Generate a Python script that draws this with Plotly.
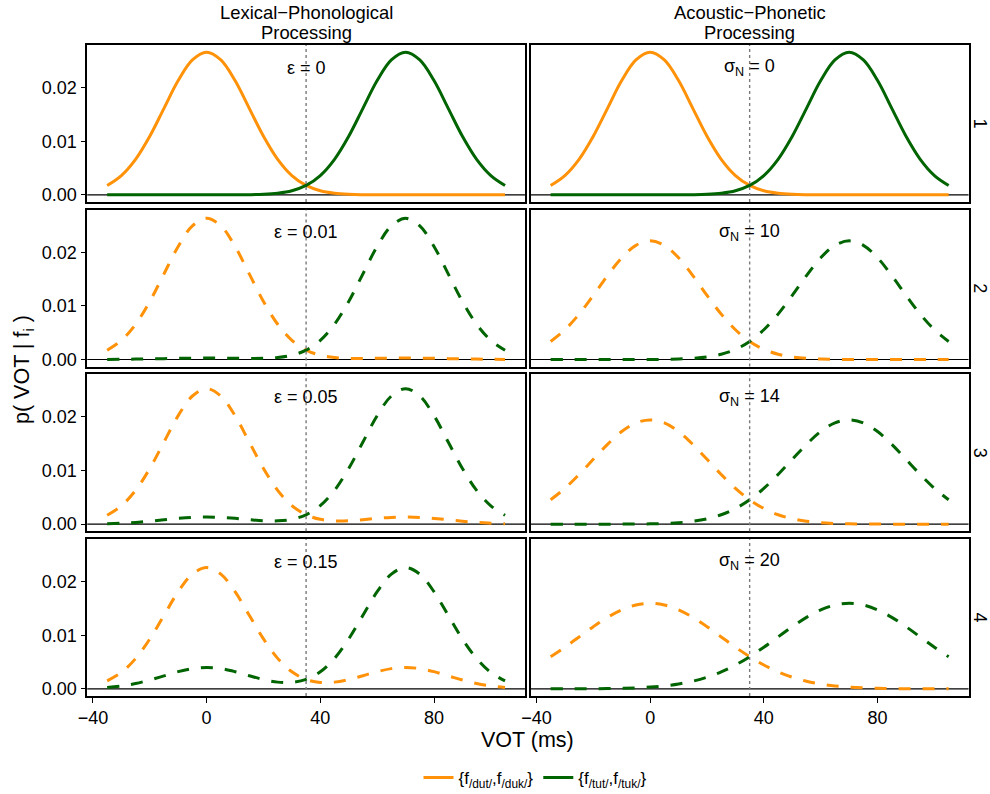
import plotly.graph_objects as go

# ---------------- data ----------------
vot = [-35, -30, -25, -20, -15, -10, -5, 0, 5, 10, 15, 20, 25, 30, 35,
       40, 45, 50, 55, 60, 65, 70, 75, 80, 85, 90, 95, 100, 105]

# row 1 (epsilon = 0 / sigma_N = 0)
dut_row1 = [0.00175, 0.00360, 0.00663, 0.01093, 0.01613, 0.02130, 0.02516, 0.02660, 0.02516, 0.02130,
            0.01613, 0.01093, 0.00663, 0.00360, 0.00175, 0.00076, 0.00030, 0.00010, 0.00003, 0.00001,
            0, 0, 0, 0, 0, 0, 0, 0, 0]
tut_row1 = [0, 0, 0, 0, 0, 0, 0, 0, 0, 0.00001,
            0.00003, 0.00010, 0.00030, 0.00076, 0.00175, 0.00360, 0.00663, 0.01093, 0.01613, 0.02130,
            0.02516, 0.02660, 0.02516, 0.02130, 0.01613, 0.01093, 0.00663, 0.00360, 0.00175]

# Lexical-Phonological processing
dut_eps001 = [0.00173, 0.00356, 0.00656, 0.01082, 0.01597, 0.02109, 0.02491, 0.02633, 0.02491, 0.02109,
              0.01597, 0.01082, 0.00657, 0.00357, 0.00175, 0.00079, 0.00036, 0.00021, 0.00019, 0.00022,
              0.00025, 0.00027, 0.00025, 0.00021, 0.00016, 0.00011, 0.00007, 0.00004, 0.00002]
tut_eps001 = [0.00002, 0.00004, 0.00007, 0.00011, 0.00016, 0.00021, 0.00025, 0.00027, 0.00025, 0.00022,
              0.00019, 0.00021, 0.00036, 0.00079, 0.00175, 0.00357, 0.00657, 0.01082, 0.01597, 0.02109,
              0.02491, 0.02633, 0.02491, 0.02109, 0.01597, 0.01082, 0.00656, 0.00356, 0.00173]
dut_eps005 = [0.00166, 0.00342, 0.00630, 0.01038, 0.01532, 0.02024, 0.02390, 0.02527, 0.02390, 0.02024,
              0.01532, 0.01039, 0.00631, 0.00346, 0.00175, 0.00090, 0.00062, 0.00064, 0.00084, 0.00108,
              0.00126, 0.00133, 0.00126, 0.00107, 0.00081, 0.00055, 0.00033, 0.00018, 0.00009]
tut_eps005 = [0.00009, 0.00018, 0.00033, 0.00055, 0.00081, 0.00107, 0.00126, 0.00133, 0.00126, 0.00108,
              0.00084, 0.00064, 0.00062, 0.00090, 0.00175, 0.00346, 0.00631, 0.01039, 0.01532, 0.02024,
              0.02390, 0.02527, 0.02390, 0.02024, 0.01532, 0.01038, 0.00630, 0.00342, 0.00166]
dut_eps015 = [0.00149, 0.00306, 0.00564, 0.00929, 0.01371, 0.01811, 0.02139, 0.02261, 0.02139, 0.01811,
              0.01371, 0.00931, 0.00568, 0.00317, 0.00175, 0.00119, 0.00125, 0.00172, 0.00245, 0.00320,
              0.00377, 0.00399, 0.00377, 0.00320, 0.00242, 0.00164, 0.00099, 0.00054, 0.00026]
tut_eps015 = [0.00026, 0.00054, 0.00099, 0.00164, 0.00242, 0.00320, 0.00377, 0.00399, 0.00377, 0.00320,
              0.00245, 0.00172, 0.00125, 0.00119, 0.00175, 0.00317, 0.00568, 0.00931, 0.01371, 0.01811,
              0.02139, 0.02261, 0.02139, 0.01811, 0.01371, 0.00929, 0.00564, 0.00306, 0.00149]

# Acoustic-Phonetic processing
dut_sig10 = [0.00336, 0.00554, 0.00846, 0.01196, 0.01565, 0.01897, 0.02129, 0.02213, 0.02129, 0.01897,
             0.01565, 0.01196, 0.00846, 0.00554, 0.00336, 0.00189, 0.00098, 0.00047, 0.00021, 0.00009,
             0.00003, 0.00001, 0, 0, 0, 0, 0, 0, 0]
tut_sig10 = [0, 0, 0, 0, 0, 0, 0, 0.00001, 0.00003, 0.00009,
             0.00021, 0.00047, 0.00098, 0.00189, 0.00336, 0.00554, 0.00846, 0.01196, 0.01565, 0.01897,
             0.02129, 0.02213, 0.02129, 0.01897, 0.01565, 0.01196, 0.00846, 0.00554, 0.00336]
dut_sig14 = [0.00454, 0.00668, 0.00926, 0.01209, 0.01488, 0.01727, 0.01888, 0.01944, 0.01888, 0.01727,
             0.01488, 0.01209, 0.00926, 0.00668, 0.00454, 0.00291, 0.00176, 0.00100, 0.00054, 0.00027,
             0.00013, 0.00006, 0.00002, 0.00001, 0, 0, 0, 0, 0]
tut_sig14 = [0, 0, 0, 0, 0, 0.00001, 0.00002, 0.00006, 0.00013, 0.00027,
             0.00054, 0.00100, 0.00176, 0.00291, 0.00454, 0.00668, 0.00926, 0.01209, 0.01488, 0.01727,
             0.01888, 0.01944, 0.01888, 0.01727, 0.01488, 0.01209, 0.00926, 0.00668, 0.00454]
dut_sig20 = [0.00599, 0.00777, 0.00968, 0.01159, 0.01333, 0.01473, 0.01564, 0.01596, 0.01564, 0.01473,
             0.01333, 0.01159, 0.00968, 0.00777, 0.00599, 0.00444, 0.00316, 0.00216, 0.00142, 0.00090,
             0.00054, 0.00032, 0.00018, 0.00010, 0.00005, 0.00002, 0.00001, 0.00001, 0]
tut_sig20 = [0, 0.00001, 0.00001, 0.00002, 0.00005, 0.00010, 0.00018, 0.00032, 0.00054, 0.00090,
             0.00142, 0.00216, 0.00316, 0.00444, 0.00599, 0.00777, 0.00968, 0.01159, 0.01333, 0.01473,
             0.01564, 0.01596, 0.01564, 0.01473, 0.01333, 0.01159, 0.00968, 0.00777, 0.00599]

col_titles = [["Lexical\u2212Phonological", "Processing"], ["Acoustic\u2212Phonetic", "Processing"]]
row_labels = ["1", "2", "3", "4"]
left_labels = ["\u03b5 = 0", "\u03b5 = 0.01", "\u03b5 = 0.05", "\u03b5 = 0.15"]
right_labels = ["\u03c3<sub>N</sub> = 0", "\u03c3<sub>N</sub> = 10", "\u03c3<sub>N</sub> = 14", "\u03c3<sub>N</sub> = 20"]
left_series = [(dut_row1, tut_row1), (dut_eps001, tut_eps001), (dut_eps005, tut_eps005), (dut_eps015, tut_eps015)]
right_series = [(dut_row1, tut_row1), (dut_sig10, tut_sig10), (dut_sig14, tut_sig14), (dut_sig20, tut_sig20)]
legend_names = ["{f<sub>/dut/</sub>,f<sub>/duk/</sub>}", "{f<sub>/tut/</sub>,f<sub>/tuk/</sub>}"]
x_ticks = [-40, 0, 40, 80]
y_ticks = [0, 0.01, 0.02]
boundary = 35

# ---------------- styling / layout ----------------
W, H = 990, 794
ORANGE = "#FF9208"
GREEN = "#006400"
FONT = "Liberation Sans, Arial, Helvetica, sans-serif"
LW = 1.5           # panel border width; plotly draws it half a width outside the domain
hw = LW / 2
col_px = [[86.5, 525.7], [530.0, 969.3]]          # border centres in pixels
row_step = 164.67
row_px = [[44.3 + r * row_step, 202.7 + r * row_step] for r in range(4)]
x_dom = [[(a + hw) / W, (b - hw) / W] for a, b in col_px]
y_dom = [[1 - (b - hw) / H, 1 - (t + hw) / H] for t, b in row_px]
x_range = [-42, 112]
y_range = [-0.00133, 0.02793]

fig = go.Figure()
layout = dict(template="none", width=W, height=H,
              margin=dict(l=0, r=0, t=0, b=0, pad=0, autoexpand=False), autosize=False,
              paper_bgcolor="white", plot_bgcolor="white",
              font=dict(family=FONT, color="black", size=17))
shapes = []
annotations = []

for r in range(4):
    for c in range(2):
        idx = r * 2 + c + 1
        xa = "x" if idx == 1 else f"x{idx}"
        ya = "y" if idx == 1 else f"y{idx}"
        xkey = "xaxis" if idx == 1 else f"xaxis{idx}"
        ykey = "yaxis" if idx == 1 else f"yaxis{idx}"
        bottom = (r == 3)
        left = (c == 0)
        layout[xkey] = dict(domain=x_dom[c], anchor=ya, range=x_range, tickvals=x_ticks,
                            showticklabels=bottom, ticks="outside" if bottom else "",
                            ticklen=5, tickwidth=1, tickcolor="black", automargin=False,
                            showline=True, linecolor="black", linewidth=LW, mirror=True,
                            showgrid=False, zeroline=False, tickfont=dict(size=18, color="black"))
        layout[ykey] = dict(domain=y_dom[r], anchor=xa, range=y_range, tickvals=y_ticks,
                            tickformat=".2f", showticklabels=left, automargin=False,
                            ticks="outside" if left else "", ticklen=5, tickwidth=1, tickcolor="black",
                            showline=True, linecolor="black", linewidth=LW, mirror=True,
                            showgrid=False, zeroline=False, tickfont=dict(size=18, color="black"))
        series = left_series[r] if c == 0 else right_series[r]
        dash = "solid" if r == 0 else "12px,12px"
        for k, (vals, colr) in enumerate(zip(series, [ORANGE, GREEN])):
            fig.add_trace(go.Scatter(x=vot, y=vals, mode="lines", xaxis=xa, yaxis=ya,
                                     line=dict(color=colr, width=3, dash=dash, shape="spline"),
                                     name=legend_names[k], legendgroup=str(k),
                                     showlegend=(idx == 1), hoverinfo="skip"))
        shapes.append(dict(type="line", xref=f"{xa} domain", x0=0, x1=1, yref=ya, y0=0, y1=0,
                           line=dict(color="black", width=1.2), layer="below"))
        shapes.append(dict(type="line", xref=xa, x0=boundary, x1=boundary, yref=f"{ya} domain",
                           y0=0, y1=1, line=dict(color="#7a7a7a", width=1.4, dash="dot"), layer="above"))
        label = left_labels[r] if c == 0 else right_labels[r]
        annotations.append(dict(text=label, xref=xa, yref=ya, x=boundary, y=0.0237,
                                showarrow=False, xanchor="center", yanchor="middle",
                                font=dict(size=18, color="black")))

for c in range(2):
    for j, line_y in enumerate([13, 33]):
        annotations.append(dict(text=col_titles[c][j], xref="paper", yref="paper",
                                x=sum(x_dom[c]) / 2, y=1 - line_y / H, showarrow=False,
                                xanchor="center", yanchor="middle",
                                font=dict(size=18.4, color="black")))
for r in range(4):
    annotations.append(dict(text=row_labels[r], xref="paper", yref="paper",
                            x=980 / W, y=sum(y_dom[r]) / 2, showarrow=False, textangle=90,
                            xanchor="center", yanchor="middle", font=dict(size=18, color="black")))

annotations.append(dict(text="VOT (ms)", xref="paper", yref="paper", x=527.8 / W, y=1 - 740 / H,
                        showarrow=False, xanchor="center", yanchor="middle",
                        font=dict(size=21.5, color="black")))
annotations.append(dict(text="p( VOT | f<sub>i</sub> )", xref="paper", yref="paper",
                        x=24 / W, y=1 - 370 / H, showarrow=False, textangle=-90,
                        xanchor="center", yanchor="middle", font=dict(size=21.5, color="black")))

layout["shapes"] = shapes
layout["annotations"] = annotations
layout["showlegend"] = True
layout["legend"] = dict(orientation="h", x=535 / W, xanchor="center", y=1 - 778 / H, yanchor="middle",
                        font=dict(size=17, color="black"), bgcolor="rgba(0,0,0,0)",
                        itemwidth=30, tracegroupgap=0)
fig.update_layout(**layout)
fig.write_html("out.html")
